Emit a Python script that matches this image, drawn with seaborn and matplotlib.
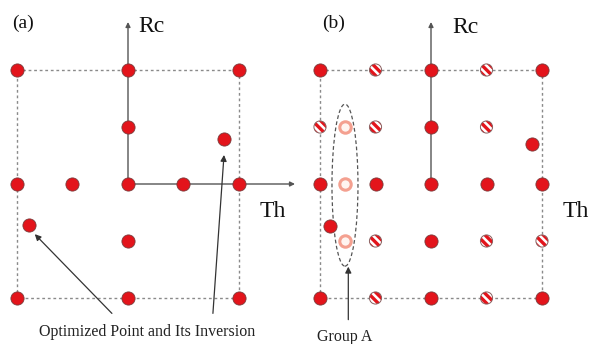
import matplotlib
matplotlib.use("Agg")
import matplotlib.pyplot as plt
import seaborn as sns
import pandas as pd
from matplotlib.patches import Ellipse

sns.set_theme(style="white")
plt.rcParams['font.family'] = ['Liberation Serif', 'DejaVu Serif']
plt.rcParams['hatch.linewidth'] = 2.4

# Panel (a) data (grid units)
a_x = [-2, 0, 2, 0, -2, -1, 0, 1, 2, 0, -2, 0, 2]
a_y = [2, 2, 2, 1, 0, 0, 0, 0, 0, -1, -2, -2, -2]
opt_x = [-1.78, 1.73]
opt_y = [-0.72, 0.79]

# Panel (b) data
b_solid_x = [-2, 0, 2, 0, -2, -1, 0, 1, 2, 0, -2, 0, 2]
b_solid_y = [2, 2, 2, 1, 0, 0, 0, 0, 0, -1, -2, -2, -2]
b_hatch_x = [-1, 1, -2, -1, 1, -1, 1, 2, -1, 1]
b_hatch_y = [2, 2, 1, 1, 1, -1, -1, -1, -2, -2]
b_opt_x = [-1.82, 1.82]
b_opt_y = [-0.74, 0.70]
groupA_x = [-1.55, -1.55, -1.55]
groupA_y = [1, 0, -1]

W, H = 592, 344
fig = plt.figure(figsize=(W / 100, H / 100), dpi=100)

ux, uy = 55.5, 57.0
oy = 184

def make_ax(left_px, right_px, ox):
    ax = fig.add_axes([left_px / W, 0, (right_px - left_px) / W, 1])
    ax.set_xlim((left_px - ox) / ux, (right_px - ox) / ux)
    ax.set_ylim(-(H - oy) / uy, oy / uy)
    ax.axis('off')
    return ax

RED = '#e3141b'
EDGE = '#7a3a3a'
S = 90
TXT = '#111111'

def frame(ax, xend):
    kw = dict(color='#8a8a8a', lw=1.0, ls=(0, (2, 2)), zorder=1)
    ax.plot([-2, 2, 2, -2, -2], [2, 2, -2, -2, 2], **kw)
    ap = dict(arrowstyle='-|>', color='#555555', lw=1.0, mutation_scale=7,
              shrinkA=0, shrinkB=0)
    ax.annotate('', xy=(0, (oy - 22) / uy), xytext=(0, 0), arrowprops=ap, zorder=2)
    ax.annotate('', xy=(xend, 0), xytext=(0, 0), arrowprops=ap, zorder=2)

arr = dict(arrowstyle='-|>', color='#333333', lw=0.9, mutation_scale=9,
           shrinkA=0, shrinkB=0)

# ---------- Panel (a)
axa = make_ax(0, 296, 128)
frame(axa, (295 - 128) / ux)
pts = pd.DataFrame({'x': a_x + opt_x, 'y': a_y + opt_y})
sns.scatterplot(data=pts, x='x', y='y', ax=axa, s=S, color=RED,
                edgecolor=EDGE, linewidth=0.6, zorder=5, legend=False)
axa.annotate('', xy=(opt_x[0] + 0.1, opt_y[0] - 0.16), xytext=(-0.29, -2.27),
             arrowprops=arr)
axa.annotate('', xy=(opt_x[1], opt_y[1] - 0.28), xytext=(1.53, -2.27),
             arrowprops=arr)
axa.text(0.35, -2.6, 'Optimized Point and Its Inversion', fontsize=11.5,
         ha='center', va='center', color='#222222')
axa.text(-2.09, 2.82, '(a)', fontsize=14, ha='left', va='center', color=TXT)
axa.text(0.18, 2.76, 'Rc', fontsize=17, ha='left', va='center', color=TXT)
axa.text(2.6, -0.48, 'Th', fontsize=17, ha='center', va='center', color=TXT)

# ---------- Panel (b)
axb = make_ax(296, 592, 431)
frame(axb, (600 - 431) / ux)
solid = pd.DataFrame({'x': b_solid_x + b_opt_x, 'y': b_solid_y + b_opt_y})
sns.scatterplot(data=solid, x='x', y='y', ax=axb, s=S, color=RED,
                edgecolor=EDGE, linewidth=0.6, zorder=5, legend=False)
hat = pd.DataFrame({'x': b_hatch_x, 'y': b_hatch_y})
sns.scatterplot(data=hat, x='x', y='y', ax=axb, s=S * 0.85, color='white',
                edgecolor=RED, linewidth=0, hatch='\\\\\\\\', zorder=5,
                legend=False)
sns.scatterplot(data=hat, x='x', y='y', ax=axb, s=S * 0.85, color='none',
                edgecolor='#8a6060', linewidth=0.7, zorder=6, legend=False)
ga = pd.DataFrame({'x': groupA_x, 'y': groupA_y})
sns.scatterplot(data=ga, x='x', y='y', ax=axb, s=S * 0.75, color='#fff4f0',
                edgecolor='#f4a090', linewidth=2.2, zorder=5, legend=False)
axb.add_patch(Ellipse((-1.55, -0.02), 26 / ux, 162 / uy, fill=False,
                      ec='#555555', lw=0.9, ls=(0, (3, 2)), zorder=4))
axb.annotate('', xy=(-1.49, -1.45), xytext=(-1.49, -2.38), arrowprops=arr)
axb.text(-1.55, -2.68, 'Group A', fontsize=11.5, ha='center', va='center',
         color='#222222')
axb.text(-1.96, 2.82, '(b)', fontsize=14, ha='left', va='center', color=TXT)
axb.text(0.38, 2.74, 'Rc', fontsize=17, ha='left', va='center', color=TXT)
axb.text(2.61, -0.48, 'Th', fontsize=17, ha='center', va='center', color=TXT)

fig.savefig('out.png', dpi=100, facecolor='white')
